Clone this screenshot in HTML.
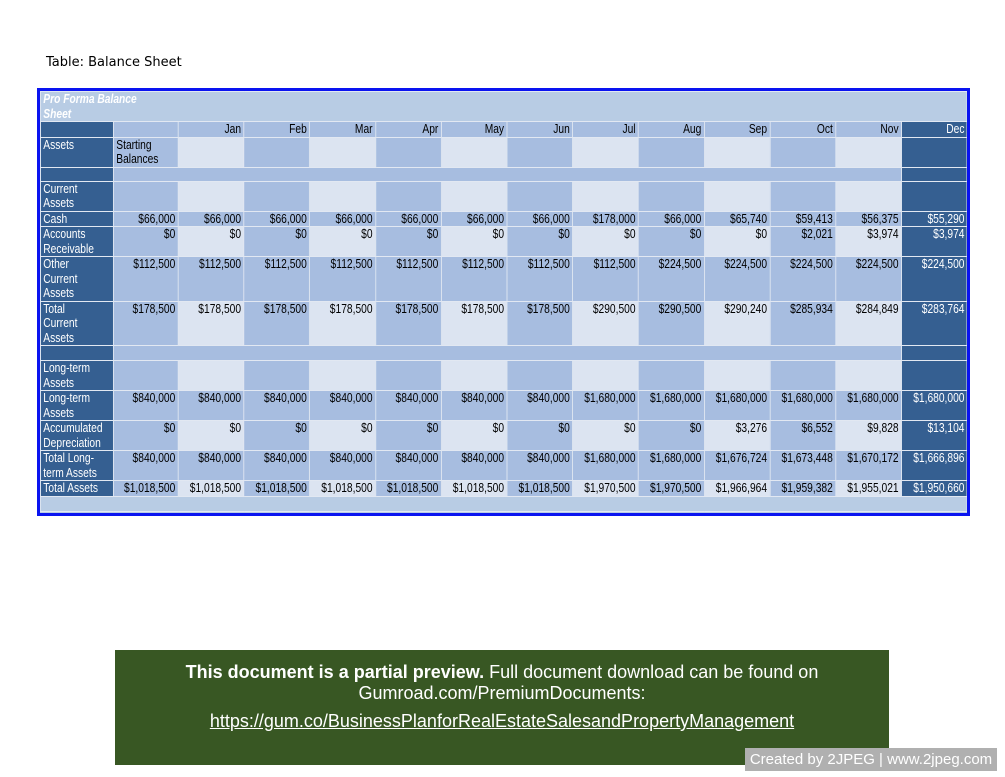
<!DOCTYPE html>
<html><head><meta charset="utf-8"><style>
body{margin:0;background:#fff;width:1005px;height:777px;position:relative;overflow:hidden;font-family:"Liberation Sans",sans-serif}
.cap{position:absolute;left:46px;top:55px;font-family:"DejaVu Sans","Liberation Sans",sans-serif;font-size:13px;color:#000}
.box{position:absolute;left:37px;top:88px;width:927px;height:422px;border:3px solid #0a14f0;background:#b8cce4;overflow:hidden}
table{border-collapse:collapse;table-layout:fixed;width:1130px;font-family:"Liberation Sans",sans-serif;font-size:12.5px;line-height:14.5px;transform:scaleX(0.82);transform-origin:0 0}
td{border:1px solid #e2e8f2;padding:0 3px;vertical-align:top;text-align:right;overflow:hidden;color:#000;white-space:nowrap}
td.L{background:#355f91;color:#fff;text-align:left}
td.D{background:#355f91;color:#fff}
td.m{background:#a7bde0}
td.l{background:#dce4f1}
td.t{background:#b8cce4;color:#fff;font-weight:bold;font-style:italic;text-align:left}
td.s{text-align:left}
.ban{position:absolute;left:115px;top:650px;width:774px;height:115px;background:#385723;color:#fff;text-align:center;font-family:"Liberation Sans",sans-serif;font-size:18px;line-height:21px}
.wm{position:absolute;left:745px;top:748px;width:252px;height:23px;background:#b0b0b0;color:#fff;font-family:"Liberation Sans",sans-serif;font-size:15px;line-height:23px;text-align:center}
</style></head><body>
<div class="cap">Table: Balance Sheet</div>
<div class="box"><table>
<colgroup><col style="width:89px"><col style="width:79px"><col span="12" style="width:80.2px"></colgroup>
<tr style="height:29px"><td class="t" colspan="14">Pro Forma Balance<br>Sheet</td></tr>
<tr style="height:15px"><td class="D"></td><td class="m"></td><td class="m">Jan</td><td class="m">Feb</td><td class="m">Mar</td><td class="m">Apr</td><td class="m">May</td><td class="m">Jun</td><td class="m">Jul</td><td class="m">Aug</td><td class="m">Sep</td><td class="m">Oct</td><td class="m">Nov</td><td class="D">Dec</td></tr>
<tr style="height:29px"><td class="L">Assets</td><td class="m s">Starting<br>Balances</td><td class="l"></td><td class="m"></td><td class="l"></td><td class="m"></td><td class="l"></td><td class="m"></td><td class="l"></td><td class="m"></td><td class="l"></td><td class="m"></td><td class="l"></td><td class="D"></td></tr>
<tr style="height:14px"><td class="L"></td><td class="m" colspan="12"></td><td class="D"></td></tr>
<tr style="height:29px"><td class="L">Current<br>Assets</td><td class="m"></td><td class="l"></td><td class="m"></td><td class="l"></td><td class="m"></td><td class="l"></td><td class="m"></td><td class="l"></td><td class="m"></td><td class="l"></td><td class="m"></td><td class="l"></td><td class="D"></td></tr>
<tr style="height:15px"><td class="L">Cash</td><td class="m">$66,000</td><td class="m">$66,000</td><td class="m">$66,000</td><td class="m">$66,000</td><td class="m">$66,000</td><td class="m">$66,000</td><td class="m">$66,000</td><td class="m">$178,000</td><td class="m">$66,000</td><td class="m">$65,740</td><td class="m">$59,413</td><td class="m">$56,375</td><td class="D">$55,290</td></tr>
<tr style="height:29px"><td class="L">Accounts<br>Receivable</td><td class="m">$0</td><td class="l">$0</td><td class="m">$0</td><td class="l">$0</td><td class="m">$0</td><td class="l">$0</td><td class="m">$0</td><td class="l">$0</td><td class="m">$0</td><td class="l">$0</td><td class="m">$2,021</td><td class="l">$3,974</td><td class="D">$3,974</td></tr>
<tr style="height:43px"><td class="L">Other<br>Current<br>Assets</td><td class="m">$112,500</td><td class="m">$112,500</td><td class="m">$112,500</td><td class="m">$112,500</td><td class="m">$112,500</td><td class="m">$112,500</td><td class="m">$112,500</td><td class="m">$112,500</td><td class="m">$224,500</td><td class="m">$224,500</td><td class="m">$224,500</td><td class="m">$224,500</td><td class="D">$224,500</td></tr>
<tr style="height:43px"><td class="L">Total<br>Current<br>Assets</td><td class="m">$178,500</td><td class="l">$178,500</td><td class="m">$178,500</td><td class="l">$178,500</td><td class="m">$178,500</td><td class="l">$178,500</td><td class="m">$178,500</td><td class="l">$290,500</td><td class="m">$290,500</td><td class="l">$290,240</td><td class="m">$285,934</td><td class="l">$284,849</td><td class="D">$283,764</td></tr>
<tr style="height:15px"><td class="L"></td><td class="m" colspan="12"></td><td class="D"></td></tr>
<tr style="height:29px"><td class="L">Long-term<br>Assets</td><td class="m"></td><td class="l"></td><td class="m"></td><td class="l"></td><td class="m"></td><td class="l"></td><td class="m"></td><td class="l"></td><td class="m"></td><td class="l"></td><td class="m"></td><td class="l"></td><td class="D"></td></tr>
<tr style="height:29px"><td class="L">Long-term<br>Assets</td><td class="m">$840,000</td><td class="m">$840,000</td><td class="m">$840,000</td><td class="m">$840,000</td><td class="m">$840,000</td><td class="m">$840,000</td><td class="m">$840,000</td><td class="m">$1,680,000</td><td class="m">$1,680,000</td><td class="m">$1,680,000</td><td class="m">$1,680,000</td><td class="m">$1,680,000</td><td class="D">$1,680,000</td></tr>
<tr style="height:29px"><td class="L">Accumulated<br>Depreciation</td><td class="m">$0</td><td class="l">$0</td><td class="m">$0</td><td class="l">$0</td><td class="m">$0</td><td class="l">$0</td><td class="m">$0</td><td class="l">$0</td><td class="m">$0</td><td class="l">$3,276</td><td class="m">$6,552</td><td class="l">$9,828</td><td class="D">$13,104</td></tr>
<tr style="height:29px"><td class="L">Total Long-<br>term Assets</td><td class="m">$840,000</td><td class="m">$840,000</td><td class="m">$840,000</td><td class="m">$840,000</td><td class="m">$840,000</td><td class="m">$840,000</td><td class="m">$840,000</td><td class="m">$1,680,000</td><td class="m">$1,680,000</td><td class="m">$1,676,724</td><td class="m">$1,673,448</td><td class="m">$1,670,172</td><td class="D">$1,666,896</td></tr>
<tr style="height:15px"><td class="L">Total Assets</td><td class="m">$1,018,500</td><td class="l">$1,018,500</td><td class="m">$1,018,500</td><td class="l">$1,018,500</td><td class="m">$1,018,500</td><td class="l">$1,018,500</td><td class="m">$1,018,500</td><td class="l">$1,970,500</td><td class="m">$1,970,500</td><td class="l">$1,966,964</td><td class="m">$1,959,382</td><td class="l">$1,955,021</td><td class="D">$1,950,660</td></tr>
<tr style="height:15px"><td colspan="14" style="background:#b8cce4"></td></tr>
</table></div>
<div class="ban"><div style="padding-top:12px"><b>This document is a partial preview.</b> Full document download can be found on<br>Gumroad.com/PremiumDocuments:</div><div style="margin-top:7px;text-decoration:underline">https://gum.co/BusinessPlanforRealEstateSalesandPropertyManagement</div></div>
<div class="wm">Created by 2JPEG | www.2jpeg.com</div>
</body></html>
